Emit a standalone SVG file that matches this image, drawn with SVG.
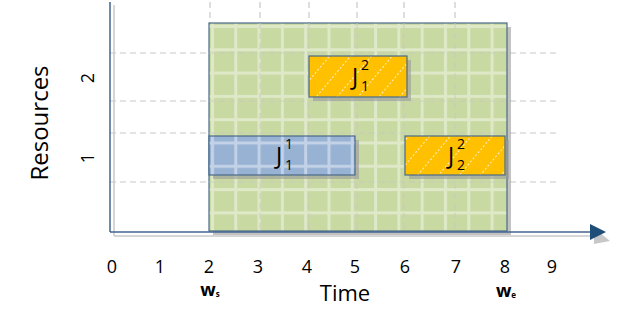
<svg xmlns="http://www.w3.org/2000/svg" width="640" height="333" viewBox="0 0 640 333">
<defs>
<style>
.lbl{font-family:"Open Sans","Liberation Sans",sans-serif;fill:#000}
.sup{font-size:14px}
.grid{stroke:#c8c8c8;stroke-width:1.2;stroke-dasharray:6,4;fill:none}
.shadow{fill:#9a9a9a;opacity:0.6}
.box{stroke:#4a6a8a;stroke-width:1.2}
</style>
<pattern id="gp" x="209" y="23" width="23.3" height="23.3" patternUnits="userSpaceOnUse">
<rect width="23.3" height="23.3" fill="#c8d9a2"/>
<rect x="2" y="0" width="3" height="23.3" fill="#dfe9c8"/>
<rect x="0" y="2" width="23.3" height="3" fill="#dfe9c8"/>
</pattern>
<pattern id="bp" x="209" y="23" width="23.3" height="23.3" patternUnits="userSpaceOnUse">
<rect width="23.3" height="23.3" fill="#98b2d4"/>
<rect x="2" y="0" width="3" height="23.3" fill="#c3d2e6"/>
<rect x="0" y="2" width="23.3" height="3" fill="#c3d2e6"/>
</pattern>
<pattern id="op" width="16" height="16" patternUnits="userSpaceOnUse" patternTransform="rotate(40)">
<rect width="16" height="16" fill="#ffc000"/>
<line x1="0" y1="0" x2="0" y2="16" stroke="#fff2cc" stroke-width="2" stroke-dasharray="2,2"/>
</pattern>
</defs>

<g id="grid">
<line class="grid" x1="110" y1="53" x2="556" y2="53"/>
<line class="grid" x1="110" y1="101" x2="556" y2="101"/>
<line class="grid" x1="110" y1="133" x2="556" y2="133"/>
<line class="grid" x1="110" y1="182" x2="556" y2="182"/>
<line class="grid" x1="210" y1="2" x2="210" y2="231"/>
<line class="grid" x1="260" y1="2" x2="260" y2="231"/>
<line class="grid" x1="309" y1="2" x2="309" y2="231"/>
<line class="grid" x1="357" y1="2" x2="357" y2="231"/>
<line class="grid" x1="404" y1="2" x2="404" y2="231"/>
<line class="grid" x1="455" y1="2" x2="455" y2="231"/>
</g>

<g id="window">
<rect class="shadow" x="213" y="27" width="298" height="208"/>
<rect x="209" y="23" width="298" height="208" fill="url(#gp)" stroke="#4a6a8a" stroke-width="1.2"/>
<g class="grid" opacity="0.7" stroke="#b0b0b0">
<line x1="209" y1="53" x2="507" y2="53"/>
<line x1="209" y1="101" x2="507" y2="101"/>
<line x1="209" y1="133" x2="507" y2="133"/>
<line x1="209" y1="182" x2="507" y2="182"/>
<line x1="260" y1="23" x2="260" y2="231"/>
<line x1="309" y1="23" x2="309" y2="231"/>
<line x1="357" y1="23" x2="357" y2="231"/>
<line x1="404" y1="23" x2="404" y2="231"/>
<line x1="455" y1="23" x2="455" y2="231"/>
</g>
</g>

<g id="axes">
<line x1="114" y1="5" x2="114" y2="236" stroke="#c8c8c8" stroke-width="1.5"/>
<line x1="114" y1="236" x2="596" y2="236" stroke="#c8c8c8" stroke-width="1.5"/>
<polygon points="594,228 610,241 594,244" fill="#c8c8c8"/>
<line x1="110" y1="2" x2="110" y2="232" stroke="#41648f" stroke-width="1.5"/>
<line x1="110" y1="232" x2="592" y2="232" stroke="#41648f" stroke-width="1.5"/>
<polygon points="590,224 606,232 590,240" fill="#1f4e79"/>
</g>

<g id="J11">
<rect class="shadow" x="213" y="140" width="146" height="39"/>
<rect class="box" x="209" y="136" width="146" height="39" fill="url(#bp)"/>
<text class="lbl" x="279" y="164" font-size="23" text-anchor="middle">J</text>
<text class="lbl sup" x="289" y="149" text-anchor="middle">1</text>
<text class="lbl sup" x="289" y="170" text-anchor="middle">1</text>
</g>

<g id="J12">
<rect class="shadow" x="313" y="60" width="98" height="41"/>
<rect class="box" x="309" y="56" width="98" height="41" fill="url(#op)"/>
<text class="lbl" x="355" y="85" font-size="23" text-anchor="middle">J</text>
<text class="lbl sup" x="365" y="70" text-anchor="middle">2</text>
<text class="lbl sup" x="365" y="91" text-anchor="middle">1</text>
</g>

<g id="J22">
<rect class="shadow" x="409" y="140" width="100" height="39"/>
<rect class="box" x="405" y="136" width="100" height="39" fill="url(#op)"/>
<text class="lbl" x="451" y="164" font-size="23" text-anchor="middle">J</text>
<text class="lbl sup" x="461" y="149" text-anchor="middle">2</text>
<text class="lbl sup" x="461" y="170" text-anchor="middle">2</text>
</g>

<g id="labels">
<text class="lbl" font-size="24" text-anchor="middle" transform="translate(48,123) rotate(-90)">Resources</text>
<text class="lbl" font-size="18" text-anchor="middle" transform="translate(94,78) rotate(-90)">2</text>
<text class="lbl" font-size="18" text-anchor="middle" transform="translate(94,158) rotate(-90)">1</text>
<g font-size="18" text-anchor="middle">
<text class="lbl" x="112" y="273">0</text>
<text class="lbl" x="160" y="273">1</text>
<text class="lbl" x="209" y="273">2</text>
<text class="lbl" x="258" y="273">3</text>
<text class="lbl" x="307" y="273">4</text>
<text class="lbl" x="355" y="273">5</text>
<text class="lbl" x="405" y="273">6</text>
<text class="lbl" x="456" y="273">7</text>
<text class="lbl" x="505" y="273">8</text>
<text class="lbl" x="552" y="273">9</text>
</g>
<text class="lbl" x="345" y="301" font-size="22" text-anchor="middle">Time</text>
<text class="lbl" x="210" y="296" font-size="18" font-weight="bold" text-anchor="middle">w<tspan font-size="8" dy="1">s</tspan></text>
<text class="lbl" x="506" y="297" font-size="18" font-weight="bold" text-anchor="middle">w<tspan font-size="8" dy="1">e</tspan></text>
</g>
</svg>
